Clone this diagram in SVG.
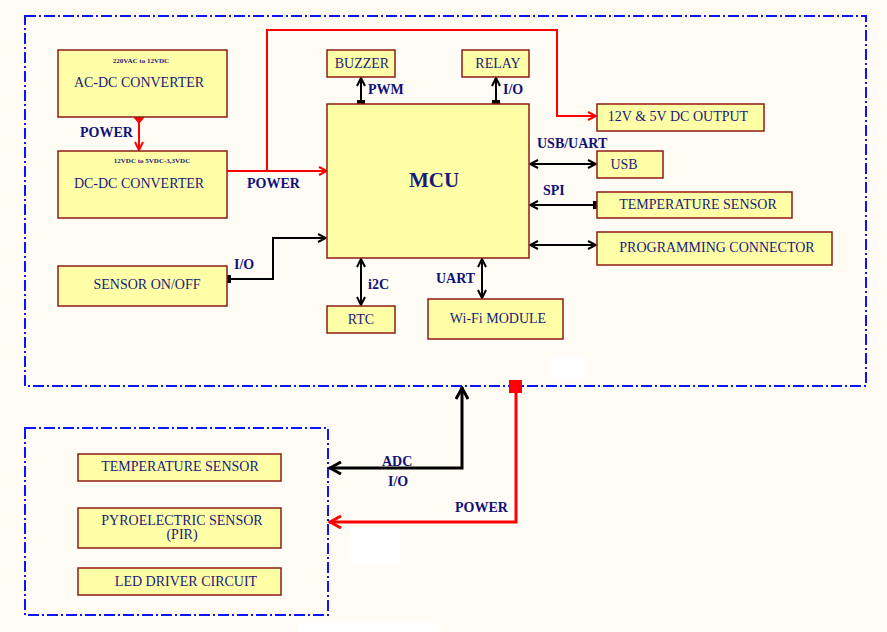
<svg xmlns="http://www.w3.org/2000/svg" width="887" height="632" viewBox="0 0 887 632">
<defs>
<style>
.box{fill:#ffffa8;stroke:#8e1c14;stroke-width:1.5}
.t{font-family:"Liberation Serif",serif;font-size:14px;fill:#1a1a78;text-anchor:middle}
.s{font-family:"Liberation Serif",serif;font-size:7px;font-weight:bold;fill:#1a1a78;text-anchor:middle}
.l{font-family:"Liberation Serif",serif;font-size:14px;font-weight:bold;fill:#10107a}
.frame{fill:none;stroke:#0a14ff;stroke-width:2;stroke-dasharray:11,3,2,3}
.bk{fill:none;stroke:#000;stroke-width:2}
.bk3{fill:none;stroke:#000;stroke-width:3}
.rd{fill:none;stroke:#ff0000;stroke-width:2}
.rd3{fill:none;stroke:#ff0000;stroke-width:3}
</style>
<marker id="ab" viewBox="0 0 10 10" refX="9" refY="5" markerWidth="10" markerHeight="10" markerUnits="userSpaceOnUse" orient="auto-start-reverse">
<path d="M1,1 L9,5 L1,9" fill="none" stroke="#000" stroke-width="2"/>
</marker>
<marker id="ab3" viewBox="0 0 14 14" refX="13" refY="7" markerWidth="14" markerHeight="14" markerUnits="userSpaceOnUse" orient="auto-start-reverse">
<path d="M1,1 L12,7 L1,13" fill="none" stroke="#000" stroke-width="3"/>
</marker>
<marker id="ar" viewBox="0 0 10 10" refX="9" refY="5" markerWidth="10" markerHeight="10" markerUnits="userSpaceOnUse" orient="auto-start-reverse">
<path d="M1,1 L9,5 L1,9" fill="none" stroke="#ff0000" stroke-width="2"/>
</marker>
<marker id="ar3" viewBox="0 0 14 14" refX="13" refY="7" markerWidth="14" markerHeight="14" markerUnits="userSpaceOnUse" orient="auto-start-reverse">
<path d="M1,1 L12,7 L1,13" fill="none" stroke="#ff0000" stroke-width="3"/>
</marker>
</defs>
<rect x="0" y="0" width="887" height="632" fill="#fffbf5"/>
<rect x="550" y="357" width="35" height="22" fill="#ffffff"/>
<rect x="351" y="528" width="49" height="37" fill="#ffffff"/>
<rect x="300" y="623" width="140" height="9" fill="#ffffff"/>

<g id="frames">
<rect class="frame" x="25" y="16" width="841" height="370"/>
<rect class="frame" x="25" y="428" width="303" height="187"/>
</g>

<g id="connectors">
<line class="rd" x1="139" y1="117" x2="139" y2="150" marker-end="url(#ar)"/>
<polygon points="134,113 139,117 144,113 144,118 139,124 134,118" fill="#ff0000"/>
<text class="l" x="80" y="137">POWER</text>
<line class="rd" x1="227" y1="171" x2="327" y2="171" marker-end="url(#ar)"/>
<text class="l" x="247" y="188">POWER</text>
<path class="rd" d="M267,171 V30 H557 V116 H596" marker-end="url(#ar)"/>
<line class="bk" x1="361" y1="104" x2="361" y2="78" marker-end="url(#ab)"/>
<rect x="357" y="100" width="8" height="8" fill="#000"/>
<text class="l" x="368" y="94">PWM</text>
<line class="bk" x1="496" y1="104" x2="496" y2="78" marker-end="url(#ab)"/>
<rect x="492" y="100" width="8" height="8" fill="#000"/>
<text class="l" x="503" y="94">I/O</text>
<line class="bk" x1="530" y1="164" x2="596" y2="164" marker-start="url(#ab)" marker-end="url(#ab)"/>
<text class="l" x="537" y="148">USB/UART</text>
<line class="bk" x1="597" y1="205" x2="530" y2="205" marker-end="url(#ab)"/>
<rect x="593" y="201" width="8" height="8" fill="#000"/>
<text class="l" x="543" y="195">SPI</text>
<line class="bk" x1="530" y1="245" x2="596" y2="245" marker-start="url(#ab)" marker-end="url(#ab)"/>
<path class="bk" d="M227,279 H273 V238 H326" marker-end="url(#ab)"/>
<rect x="223" y="275" width="8" height="8" fill="#000"/>
<text class="l" x="234" y="269">I/O</text>
<line class="bk" x1="361" y1="259" x2="361" y2="305" marker-start="url(#ab)" marker-end="url(#ab)"/>
<text class="l" x="368" y="289">i2C</text>
<line class="bk" x1="482" y1="259" x2="482" y2="298" marker-start="url(#ab)" marker-end="url(#ab)"/>
<text class="l" x="436" y="283">UART</text>
<path class="bk3" d="M329,468 H462 V387" marker-start="url(#ab3)" marker-end="url(#ab3)"/>
<text class="l" x="382" y="466">ADC</text>
<text class="l" x="388" y="486">I/O</text>
<path class="rd3" d="M516,393 V522 H329" marker-end="url(#ar3)"/>
<rect x="509" y="380" width="13" height="13" fill="#ff0000"/>
<text class="l" x="455" y="512">POWER</text>
</g>

<g id="acdc"><rect class="box" x="58" y="50" width="169" height="67"/>
<text class="s" x="141" y="63">220VAC to 12VDC</text>
<text class="t" x="139" y="87">AC-DC CONVERTER</text></g>
<g id="dcdc"><rect class="box" x="58" y="151" width="169" height="67"/>
<text class="s" x="152" y="163">12VDC to 5VDC-3,3VDC</text>
<text class="t" x="139" y="188">DC-DC CONVERTER</text></g>
<g id="buzzer"><rect class="box" x="327" y="50" width="68" height="27"/>
<text class="t" x="362" y="68">BUZZER</text></g>
<g id="relay"><rect class="box" x="462" y="50" width="67" height="27"/>
<text class="t" x="498" y="68">RELAY</text></g>
<g id="mcu"><rect class="box" x="327" y="104" width="202" height="154"/>
<text class="t" x="434" y="187" style="font-size:21px;font-weight:bold">MCU</text></g>
<g id="dcout"><rect class="box" x="597" y="104" width="167" height="27"/>
<text class="t" x="678" y="121">12V &amp; 5V DC OUTPUT</text></g>
<g id="usb"><rect class="box" x="597" y="151" width="66" height="27"/>
<text class="t" x="624" y="169">USB</text></g>
<g id="tempsensor1"><rect class="box" x="597" y="192" width="195" height="26"/>
<text class="t" x="698" y="209">TEMPERATURE SENSOR</text></g>
<g id="progconn"><rect class="box" x="597" y="232" width="235" height="33"/>
<text class="t" x="717" y="252">PROGRAMMING CONNECTOR</text></g>
<g id="sensoronoff"><rect class="box" x="58" y="266" width="169" height="40"/>
<text class="t" x="147" y="289">SENSOR ON/OFF</text></g>
<g id="rtc"><rect class="box" x="327" y="306" width="68" height="27"/>
<text class="t" x="361" y="324">RTC</text></g>
<g id="wifi"><rect class="box" x="428" y="299" width="135" height="40"/>
<text class="t" x="498" y="323">Wi-Fi MODULE</text></g>
<g id="tempsensor2"><rect class="box" x="78" y="454" width="203" height="27"/>
<text class="t" x="180" y="471">TEMPERATURE SENSOR</text></g>
<g id="pir"><rect class="box" x="78" y="508" width="203" height="40"/>
<text class="t" x="182" y="525">PYROELECTRIC SENSOR</text>
<text class="t" x="182" y="539">(PIR)</text></g>
<g id="led"><rect class="box" x="78" y="568" width="203" height="27"/>
<text class="t" x="186" y="586">LED DRIVER CIRCUIT</text></g>
</svg>
